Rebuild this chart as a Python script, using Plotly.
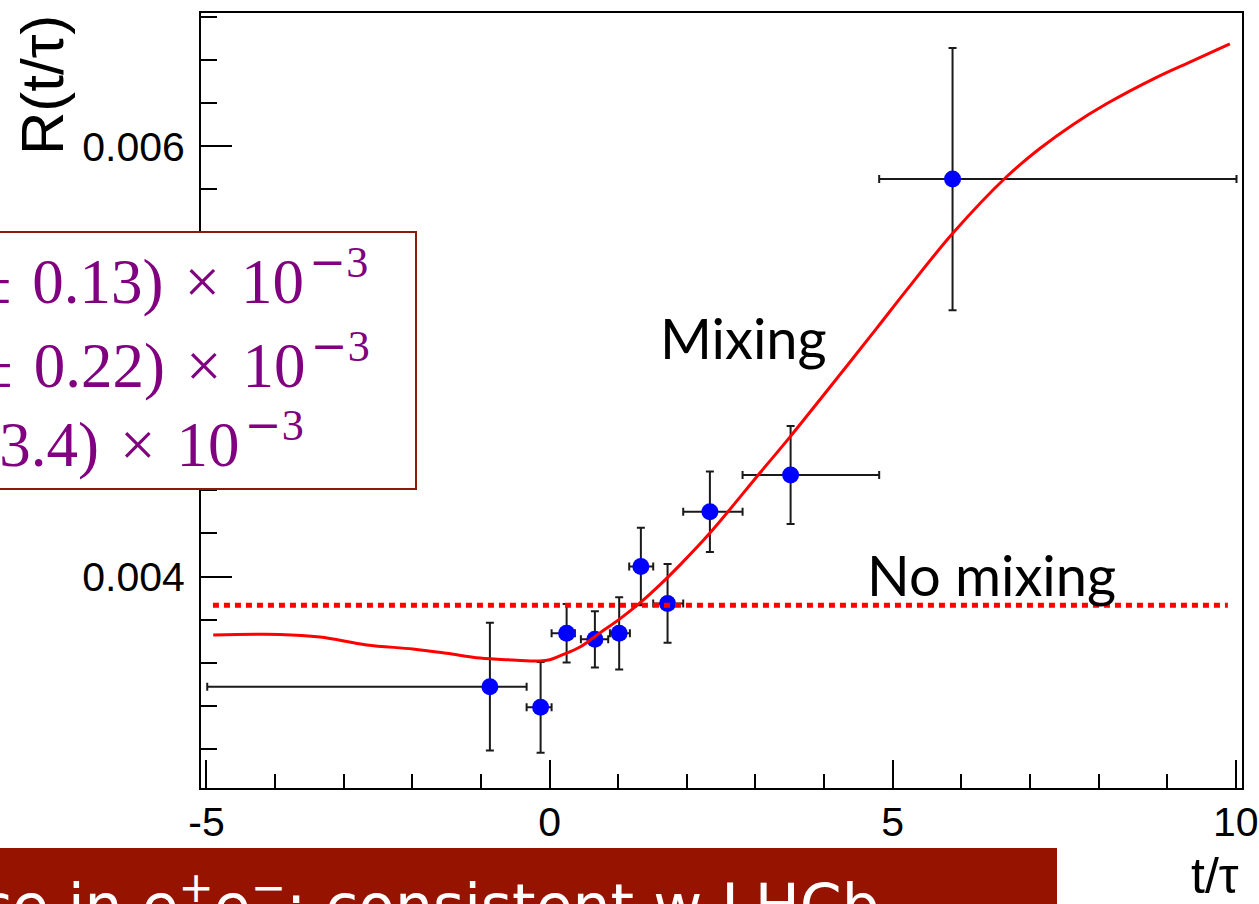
import plotly.graph_objects as go

# Measured ratio per decay-time bin (t/tau), with bin edges and errors
t_center = [-0.870, -0.131, 0.248, 0.660, 1.014, 1.330, 1.719, 2.336, 3.512, 5.872]
t_lo = [-4.989, -0.335, 0.029, 0.456, 0.879, 1.160, 1.510, 1.947, 2.812, 4.803]
t_hi = [-0.335, 0.029, 0.369, 0.854, 1.170, 1.510, 1.947, 2.812, 4.803, 10.01]
ratio = [0.003488, 0.003392, 0.003736, 0.003708, 0.003736,
         0.004046, 0.003875, 0.004301, 0.004472, 0.005847]
ratio_err = [0.000297, 0.000211, 0.000136, 0.000131, 0.000168,
             0.000180, 0.000183, 0.000187, 0.000228, 0.000609]

# Mixing fit curve
fit_t = [-4.902, -3.930, -3.347, -2.666, -1.992, -1.501, -1.016, -0.535, -0.141,
         0.004, 0.150, 0.442, 0.733, 1.024, 1.316, 1.607, 1.898, 2.336, 3.064,
         3.501, 3.982, 4.765, 5.202, 5.872, 6.659, 7.144, 7.625, 8.116, 8.845,
         9.330, 9.913]
fit_r = [0.003728, 0.003731, 0.003719, 0.003682, 0.003663, 0.003643, 0.003621,
         0.003612, 0.003607, 0.003613, 0.003631, 0.003672, 0.003738, 0.003803,
         0.003877, 0.003961, 0.004053, 0.004202, 0.004481, 0.004648, 0.004839,
         0.005153, 0.005331, 0.005594, 0.005858, 0.005989, 0.006100, 0.006197,
         0.006320, 0.006391, 0.006476]

# No-mixing hypothesis (flat)
flat_t = [-4.906, 9.884]
flat_r = [0.003866, 0.003866]

SP = " \u200a"
EXP = "\u200a<sup><span style='font-family:DejaVu Serif'>−</span>3</sup>"
fit_lines = [
    f"R<sub>D</sub>{SP}={SP}(3.53{SP}±{SP}0.13){SP}×{SP}10{EXP}",
    f"x′<sup>2</sup>{SP}={SP}(0.09{SP}±{SP}0.22){SP}×{SP}10{EXP}",
    f"y′{SP}={SP}(4.6{SP}±{SP}3.4){SP}×{SP}10{EXP}",
]
banner_text = "Mixing evidence in e<sup>+</sup>e<sup>−</sup>: consistent w LHCb"

x_ticks = [-5, 0, 5, 10]
x_ticktext = ["-5", "0", "5", "10"]
y_ticks = [0.004, 0.006]
y_ticktext = ["0.004", "0.006"]

# page geometry
PAGE_W, PAGE_H = 1259, 904
ML, MR, MT, MB = 201, 17, 13, 116
PW = PAGE_W - ML - MR
PH = PAGE_H - MT - MB


def xp(px):
    return (px - ML) / PW


def yp(py):
    return (PAGE_H - MB - py) / PH


fig = go.Figure()

fig.add_trace(go.Scatter(
    x=t_center, y=ratio, mode="markers",
    marker=dict(color="#0000ff", size=17, line=dict(width=0)),
    error_x=dict(type="data", symmetric=False,
                 array=[h - c for h, c in zip(t_hi, t_center)],
                 arrayminus=[c - l for c, l in zip(t_center, t_lo)],
                 color="#1a1a1a", thickness=2, width=4),
    error_y=dict(type="data", array=ratio_err, color="#1a1a1a", thickness=2, width=4),
    showlegend=False, cliponaxis=False,
))

fig.add_trace(go.Scatter(
    x=flat_t, y=flat_r, mode="lines",
    line=dict(color="#ff0000", width=5, dash="6px,5px"),
    showlegend=False,
))

fig.add_trace(go.Scatter(
    x=fit_t, y=fit_r, mode="lines", line_shape="spline",
    line=dict(color="#ff0000", width=3, smoothing=1.0),
    showlegend=False,
))

axis_font = dict(family="Liberation Sans, Arial, sans-serif", size=41, color="black")

fig.update_xaxes(
    range=[-5.08, 10.09], showgrid=False, zeroline=False,
    showline=True, linecolor="black", linewidth=2, mirror=True,
    tickmode="array", tickvals=x_ticks, ticktext=x_ticktext,
    ticks="inside", ticklen=28, tickwidth=2, tickcolor="black",
    tickfont=axis_font, ticklabelstandoff=-3, automargin=False,
    minor=dict(ticks="inside", ticklen=14, tickwidth=2, tickcolor="black",
               dtick=1, tick0=0, showgrid=False),
)
fig.update_yaxes(
    range=[0.003017, 0.006619], showgrid=False, zeroline=False,
    showline=True, linecolor="black", linewidth=2, mirror=True,
    tickmode="array", tickvals=y_ticks, ticktext=y_ticktext,
    ticks="inside", ticklen=31, tickwidth=2, tickcolor="black",
    tickfont=axis_font, ticklabelstandoff=6, automargin=False,
    minor=dict(ticks="inside", ticklen=16, tickwidth=2, tickcolor="black",
               dtick=0.0002, tick0=0, showgrid=False),
)

shapes = [
    # fit result box
    dict(type="rect", xref="paper", yref="paper", layer="above",
         x0=xp(-10), x1=xp(416), y0=yp(489), y1=yp(232),
         fillcolor="white", line=dict(color="#8c1a0a", width=2)),
    # bottom banner
    dict(type="rect", xref="paper", yref="paper", layer="above",
         x0=xp(-10), x1=xp(1057), y0=yp(940), y1=yp(848),
         fillcolor="#961300", line=dict(width=0)),
]

serif = dict(family="Liberation Serif, Times New Roman, serif", size=63, color="#800080")
hand = dict(family="Comic Sans MS, Lato, sans-serif", size=56, color="black")

annotations = []
for text, right_px, base_px in zip(fit_lines, [370, 372, 306], [306, 385, 463]):
    annotations.append(dict(
        text=text, xref="paper", yref="paper", x=xp(right_px), y=yp(base_px - 24),
        xanchor="right", yanchor="middle", showarrow=False, font=serif,
    ))

annotations += [
    dict(text="Mixing", xref="paper", yref="paper", x=xp(743), y=yp(337),
         xanchor="center", yanchor="middle", showarrow=False, font=hand),
    dict(text="No mixing", xref="paper", yref="paper", x=xp(991), y=yp(574),
         xanchor="center", yanchor="middle", showarrow=False, font=hand),
    dict(text=banner_text, xref="paper", yref="paper", x=xp(882), y=yp(902),
         xanchor="right", yanchor="middle", showarrow=False,
         font=dict(family="Comic Sans MS, DejaVu Sans, sans-serif", size=60, color="white")),
    dict(text="R(t/τ)", xref="paper", yref="paper", x=xp(42), y=yp(13),
         xanchor="center", yanchor="top", textangle=-90, showarrow=False,
         font=dict(family="Liberation Sans, Arial, sans-serif", size=60, color="black")),
    dict(text="t/τ", xref="paper", yref="paper", x=xp(1241), y=yp(876),
         xanchor="right", yanchor="middle", showarrow=False,
         font=dict(family="Liberation Sans, Arial, sans-serif", size=50, color="black")),
]

fig.update_layout(
    width=PAGE_W, height=PAGE_H, autosize=False,
    margin=dict(l=ML, r=MR, t=MT, b=MB, pad=0, autoexpand=False),
    paper_bgcolor="white", plot_bgcolor="white",
    shapes=shapes, annotations=annotations,
    showlegend=False,
)

fig.write_html(
    "out.html",
    config={"displayModeBar": False, "responsive": False},
    post_script="document.documentElement.style.overflow='hidden';"
                "document.body.style.overflow='hidden';document.body.style.margin='0';",
)
